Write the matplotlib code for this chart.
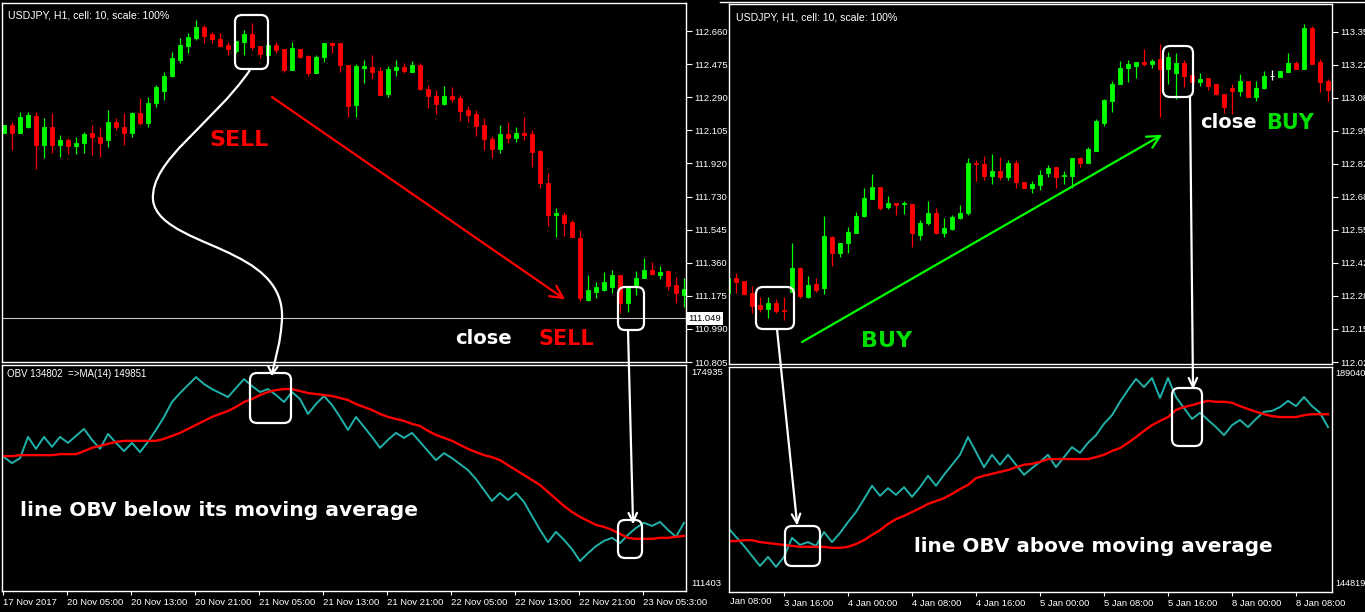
import numpy as np
import matplotlib
matplotlib.use("Agg")
import matplotlib.pyplot as plt
from matplotlib.patches import FancyBboxPatch, PathPatch
from matplotlib.path import Path
from matplotlib.transforms import blended_transform_factory as blend

# ---------------- data: left chart (USDJPY H1, 17-23 Nov 2017) ----------------
left_open = [112.088, 112.133, 112.088, 112.122, 112.184, 112.021, 112.122, 112.021, 112.049, 112.016,
             112.032, 112.088, 112.066, 112.049, 112.150, 112.122, 112.088, 112.201, 112.144, 112.257,
             112.324, 112.408, 112.498, 112.576, 112.621, 112.683, 112.643, 112.615, 112.582, 112.548,
             112.599, 112.643, 112.576, 112.526, 112.582, 112.559, 112.442, 112.559, 112.520, 112.425,
             112.514, 112.593, 112.593, 112.470, 112.245, 112.453, 112.458, 112.436, 112.307, 112.442,
             112.458, 112.430, 112.470, 112.335, 112.296, 112.251, 112.296, 112.285, 112.217, 112.195,
             112.133, 112.055, 111.999, 112.083, 112.060, 112.088, 112.083, 111.987, 111.808, 111.629,
             111.629, 111.589, 111.500, 111.152, 111.197, 111.208, 111.225, 111.292, 111.135, 111.225,
             111.276, 111.320, 111.292, 111.315, 111.236, 111.180]
left_high = [112.133, 112.150, 112.206, 112.206, 112.206, 112.172, 112.201, 112.077, 112.060, 112.066,
             112.094, 112.133, 112.122, 112.217, 112.172, 112.201, 112.206, 112.285, 112.290, 112.357,
             112.430, 112.542, 112.621, 112.649, 112.722, 112.694, 112.655, 112.649, 112.599, 112.604,
             112.666, 112.705, 112.576, 112.593, 112.599, 112.559, 112.599, 112.559, 112.526, 112.526,
             112.593, 112.599, 112.593, 112.470, 112.475, 112.498, 112.526, 112.458, 112.464, 112.498,
             112.481, 112.492, 112.481, 112.357, 112.329, 112.352, 112.346, 112.301, 112.240, 112.217,
             112.172, 112.072, 112.133, 112.150, 112.122, 112.178, 112.105, 111.993, 111.864, 111.668,
             111.646, 111.601, 111.545, 111.292, 111.253, 111.309, 111.320, 111.292, 111.219, 111.315,
             111.388, 111.365, 111.343, 111.315, 111.281, 111.276]
left_low = [112.088, 111.993, 112.088, 112.116, 111.887, 111.948, 111.976, 111.954, 111.971, 111.971,
            111.976, 111.965, 111.954, 112.010, 112.105, 112.021, 112.066, 112.133, 112.122, 112.234,
            112.273, 112.402, 112.481, 112.537, 112.610, 112.593, 112.593, 112.571, 112.526, 112.537,
            112.526, 112.554, 112.509, 112.520, 112.537, 112.430, 112.442, 112.509, 112.408, 112.425,
            112.486, 112.537, 112.430, 112.178, 112.178, 112.369, 112.391, 112.301, 112.290, 112.408,
            112.425, 112.430, 112.329, 112.229, 112.195, 112.245, 112.262, 112.156, 112.150, 112.072,
            111.993, 111.948, 111.976, 112.032, 112.038, 112.049, 111.898, 111.780, 111.567, 111.505,
            111.511, 111.505, 111.147, 111.147, 111.163, 111.203, 111.191, 111.079, 111.085, 111.180,
            111.276, 111.292, 111.270, 111.208, 111.135, 111.113]
left_close = [112.133, 112.088, 112.178, 112.189, 112.021, 112.122, 112.021, 112.049, 112.016, 112.032,
              112.083, 112.066, 112.032, 112.150, 112.122, 112.088, 112.201, 112.144, 112.257, 112.346,
              112.408, 112.509, 112.582, 112.627, 112.683, 112.632, 112.615, 112.576, 112.559, 112.604,
              112.643, 112.571, 112.531, 112.582, 112.554, 112.442, 112.565, 112.514, 112.425, 112.514,
              112.593, 112.582, 112.470, 112.240, 112.464, 112.464, 112.430, 112.301, 112.447, 112.458,
              112.436, 112.470, 112.335, 112.296, 112.251, 112.296, 112.279, 112.212, 112.189, 112.128,
              112.055, 111.999, 112.083, 112.060, 112.088, 112.077, 111.982, 111.808, 111.629, 111.640,
              111.584, 111.505, 111.163, 111.208, 111.225, 111.253, 111.292, 111.135, 111.219, 111.276,
              111.320, 111.298, 111.309, 111.231, 111.191, 111.214]
left_obv = [149600, 147800, 149300, 155700, 152100, 155700, 152700, 155700, 153900, 156000,
            158100, 154800, 152100, 156600, 153900, 151400, 153900, 151100, 154200, 157800,
            161700, 166200, 168900, 171300, 173700, 171600, 170100, 168900, 167700, 170400,
            173100, 171000, 169200, 170100, 168300, 166200, 169200, 167100, 162600, 165600,
            168000, 165300, 161700, 157800, 161700, 158700, 155700, 152400, 154800, 156900,
            155400, 156900, 154200, 151400, 148700, 150800, 149300, 147500, 145700, 143000,
            139700, 136400, 138800, 136700, 138800, 136100, 131900, 127700, 124000, 127100,
            124700, 121900, 118300, 120700, 122800, 124400, 125300, 123700, 126200, 128300,
            129800, 128900, 130100, 127700, 125600, 129800]
left_ma = [149900, 149900, 150200, 150200, 150200, 150200, 150200, 150500, 150500, 150500,
           151400, 152400, 153000, 153600, 154200, 154500, 154500, 154500, 154500, 154500,
           155100, 156000, 156900, 158100, 159300, 160500, 161700, 162600, 163500, 164700,
           166200, 167100, 168300, 169200, 169800, 170100, 170100, 169500, 168900, 168600,
           168300, 168000, 167400, 166800, 165600, 164700, 163800, 162600, 161700, 161100,
           160500, 159600, 159000, 157500, 156300, 155400, 154500, 153300, 152100, 151100,
           150200, 149600, 148700, 147200, 145700, 144200, 142700, 141200, 139100, 137000,
           134900, 133100, 131600, 130400, 129200, 128600, 127700, 126500, 125300, 125000,
           125000, 125000, 125300, 125300, 125600, 125900]
left_bid = 111.049
left_price_ticks = ["112.660", "112.475", "112.290", "112.105", "111.920", "111.730",
                    "111.545", "111.360", "111.175", "110.990", "110.805"]
left_obv_scale = ["174935", "111403"]
left_time_labels = ["17 Nov 2017", "20 Nov 05:00", "20 Nov 13:00", "20 Nov 21:00", "21 Nov 05:00",
                    "21 Nov 13:00", "21 Nov 21:00", "22 Nov 05:00", "22 Nov 13:00", "22 Nov 21:00",
                    "23 Nov 05:3:00"]
left_obv_header = "OBV 134802  =>MA(14) 149851"

# ---------------- data: right chart (USDJPY H1, 3-8 Jan) ----------------
right_open = [112.300, 112.360, 112.348, 112.300, 112.252, 112.236, 112.260, 112.232, 112.304, 112.400,
              112.284, 112.336, 112.320, 112.525, 112.461, 112.501, 112.541, 112.609, 112.681, 112.729,
              112.645, 112.665, 112.657, 112.661, 112.533, 112.581, 112.621, 112.541, 112.557, 112.601,
              112.621, 112.826, 112.822, 112.770, 112.790, 112.766, 112.826, 112.746, 112.725, 112.737,
              112.782, 112.806, 112.770, 112.770, 112.846, 112.826, 112.874, 112.986, 113.075, 113.143,
              113.207, 113.215, 113.231, 113.223, 113.243, 113.203, 113.187, 113.227, 113.179, 113.151,
              113.167, 113.143, 113.103, 113.127, 113.115, 113.155, 113.091, 113.127, 113.175, 113.171,
              113.191, 113.227, 113.203, 113.368, 113.231, 113.155]
right_high = [112.360, 112.380, 112.348, 112.328, 112.284, 112.284, 112.276, 112.284, 112.501, 112.404,
              112.368, 112.360, 112.609, 112.529, 112.501, 112.565, 112.625, 112.725, 112.778, 112.729,
              112.693, 112.665, 112.673, 112.661, 112.593, 112.673, 112.641, 112.601, 112.613, 112.653,
              112.846, 112.838, 112.854, 112.862, 112.850, 112.838, 112.838, 112.746, 112.750, 112.794,
              112.814, 112.806, 112.790, 112.846, 112.850, 112.890, 113.002, 113.083, 113.155, 113.235,
              113.239, 113.231, 113.283, 113.243, 113.303, 113.271, 113.267, 113.239, 113.179, 113.187,
              113.167, 113.143, 113.103, 113.143, 113.183, 113.155, 113.155, 113.195, 113.199, 113.195,
              113.267, 113.235, 113.384, 113.376, 113.243, 113.163]
right_low = [112.300, 112.300, 112.292, 112.220, 112.224, 112.200, 112.220, 112.192, 112.304, 112.280,
             112.280, 112.304, 112.296, 112.408, 112.444, 112.461, 112.541, 112.605, 112.681, 112.633,
             112.637, 112.613, 112.617, 112.485, 112.513, 112.573, 112.537, 112.525, 112.553, 112.597,
             112.613, 112.750, 112.754, 112.741, 112.754, 112.754, 112.725, 112.725, 112.705, 112.717,
             112.766, 112.725, 112.741, 112.725, 112.806, 112.826, 112.874, 112.974, 113.030, 113.143,
             113.151, 113.167, 113.215, 113.207, 113.010, 113.143, 113.083, 113.131, 113.151, 113.135,
             113.119, 113.099, 113.026, 113.022, 113.095, 113.091, 113.075, 113.123, 113.159, 113.171,
             113.191, 113.203, 113.203, 113.223, 113.111, 113.075]
right_close = [112.360, 112.344, 112.296, 112.248, 112.236, 112.260, 112.228, 112.228, 112.400, 112.288,
               112.332, 112.312, 112.529, 112.461, 112.501, 112.545, 112.609, 112.685, 112.729, 112.641,
               112.665, 112.653, 112.665, 112.541, 112.581, 112.621, 112.541, 112.561, 112.605, 112.621,
               112.826, 112.822, 112.770, 112.790, 112.766, 112.826, 112.746, 112.725, 112.741, 112.774,
               112.802, 112.766, 112.774, 112.846, 112.826, 112.882, 112.994, 113.079, 113.143, 113.207,
               113.223, 113.231, 113.223, 113.235, 113.203, 113.251, 113.227, 113.175, 113.151, 113.163,
               113.135, 113.103, 113.051, 113.115, 113.155, 113.091, 113.127, 113.175, 113.175, 113.195,
               113.227, 113.203, 113.368, 113.223, 113.151, 113.119]
right_obv = [156600, 154700, 152800, 150700, 148600, 150500, 148400, 150500, 154500, 153000,
             153600, 152800, 155700, 153600, 155500, 157800, 159900, 162600, 165400, 163300,
             164900, 163500, 165100, 163100, 165100, 167500, 165400, 167700, 169800, 171900,
             175600, 172500, 169300, 171900, 169800, 171900, 169800, 167700, 169100, 170400,
             171900, 169300, 171400, 173500, 172300, 174400, 176000, 178400, 180200, 183000,
             185500, 187800, 186100, 188000, 183800, 188000, 184000, 181700, 179400, 180700,
             179200, 177700, 176000, 178100, 179200, 177700, 179400, 180900, 181100, 181900,
             183200, 182100, 184000, 182100, 180700, 177700]
right_ma = [153800, 153800, 154000, 154000, 153600, 153400, 153200, 153000, 152800, 152600,
            152600, 152600, 152600, 152400, 152400, 152600, 153200, 154000, 155100, 156100,
            157400, 158400, 159100, 159900, 160700, 161600, 162200, 162800, 163700, 164700,
            165600, 167000, 167500, 167900, 168300, 168700, 169300, 169800, 170000, 170400,
            171000, 171000, 171000, 171000, 171000, 171000, 171400, 171900, 172700, 173300,
            174400, 175600, 176900, 178100, 179000, 179800, 181300, 181900, 182300, 182800,
            183200, 183000, 183000, 182800, 182100, 181500, 180900, 180400, 180000, 179800,
            179800, 179800, 180200, 180400, 180400, 180400]
right_price_ticks = ["113.353", "113.220", "113.087", "112.954", "112.821", "112.688",
                     "112.555", "112.422", "112.289", "112.156", "112.023"]
right_obv_scale = ["189040", "144819"]
right_time_labels = ["3 Jan 16:00", "4 Jan 00:00", "4 Jan 08:00", "4 Jan 16:00", "5 Jan 00:00",
                     "5 Jan 08:00", "5 Jan 16:00", "8 Jan 00:00", "8 Jan 08:00"]
right_first_label = "Jan 08:00"
chart_header = "USDJPY, H1, cell: 10, scale: 100%"

# ---------------- style ----------------
BULL, BEAR, DOJI = "#00FF00", "#FF0000", "#FFFFFF"
OBV_COL, MA_COL = "#20B2AA", "#FF0000"
ANN = ["DejaVu Sans"]
plt.rcParams["font.family"] = ["Liberation Sans", "DejaVu Sans"]

W, H = 1365, 612
fig = plt.figure(figsize=(W / 100, H / 100), dpi=100, facecolor="black")


def px_axes(x0, y0, x1, y1):
    return fig.add_axes([x0 / W, 1 - y1 / H, (x1 - x0) / W, (y1 - y0) / H])


def style(ax):
    ax.set_facecolor("black")
    for s in ax.spines.values():
        s.set_color("white")
        s.set_linewidth(1.0)
    ax.tick_params(colors="white", labelcolor="white", labelsize=6.8, width=0.8)


def draw_candles(ax, o, h, l, c):
    o, h, l, c = map(np.asarray, (o, h, l, c))
    x = np.arange(len(o))
    cols = np.where(c > o, BULL, np.where(c < o, BEAR, DOJI))
    ax.vlines(x, l, h, colors=cols, linewidth=0.9)
    ax.bar(x, c - o, bottom=o, width=0.58, color=cols, edgecolor=cols, linewidth=0.6)


def price_axis(ax, ticks):
    ax.set_xticks([])
    ax.yaxis.tick_right()
    ax.set_yticks([float(t) for t in ticks])
    ax.set_yticklabels(ticks)
    ax.tick_params(axis="y", length=4, pad=2)


# ---------------- left chart ----------------
nL = len(left_open)
axLP = px_axes(2, 3, 686, 362)
style(axLP)
draw_candles(axLP, left_open, left_high, left_low, left_close)
axLP.set_xlim(-0.25, nL - 0.75)
axLP.set_ylim(110.805, 112.817)
price_axis(axLP, left_price_ticks)
axLP.axhline(left_bid, color="#C8C8C8", lw=0.8)
axLP.text(1.003, left_bid, f"{left_bid:.3f}", transform=blend(axLP.transAxes, axLP.transData),
          color="black", fontsize=6.8, va="center", ha="left",
          bbox=dict(fc="white", ec="none", pad=1.2))
axLP.text(0.009, 0.966, chart_header, transform=axLP.transAxes, color="white", fontsize=7.6, va="center")

axLO = px_axes(2, 365, 686, 591)
style(axLO)
xL = np.arange(nL)
axLO.plot(xL, left_obv, color=OBV_COL, lw=1.4)
axLO.plot(xL, left_ma, color=MA_COL, lw=1.7)
axLO.set_xlim(-0.25, nL - 0.75)
axLO.set_ylim(109295, 177343)
axLO.set_yticks([])
axLO.set_xticks(np.arange(len(left_time_labels)) * 8 - 0.125)
axLO.set_xticklabels(left_time_labels, ha="left")
axLO.tick_params(axis="x", length=3, pad=2)
for v in left_obv_scale:
    axLO.text(1.008, float(v), v, transform=blend(axLO.transAxes, axLO.transData),
              color="white", fontsize=6.8, va="center", ha="left")
axLO.text(0.007, 0.958, left_obv_header, transform=axLO.transAxes, color="white", fontsize=7.0, va="center")

# ---------------- right chart ----------------
nR = len(right_open)
axRP = px_axes(729, 4, 1332, 364)
style(axRP)
draw_candles(axRP, right_open, right_high, right_low, right_close)
axRP.set_xlim(0.125, nR - 0.5)
axRP.set_ylim(112.015, 113.464)
price_axis(axRP, right_price_ticks)
axRP.text(0.011, 0.962, chart_header, transform=axRP.transAxes, color="white", fontsize=7.6, va="center")

axRO = px_axes(729, 367, 1332, 592)
style(axRO)
xR = np.arange(nR)
axRO.plot(xR, right_obv, color=OBV_COL, lw=1.4)
axRO.plot(xR, right_ma, color=MA_COL, lw=1.7)
axRO.set_xlim(0.125, nR - 0.5)
axRO.set_ylim(143138, 190298)
axRO.set_yticks([])
axRO.set_xticks(np.arange(len(right_time_labels)) * 8 + 7)
axRO.set_xticklabels(right_time_labels, ha="left")
axRO.tick_params(axis="x", length=3, pad=2)
axRO.text(0.002, -0.04, right_first_label, transform=axRO.transAxes, color="white",
          fontsize=6.8, va="center", ha="left")
for v in right_obv_scale:
    axRO.text(1.005, float(v), v, transform=blend(axRO.transAxes, axRO.transData),
              color="white", fontsize=6.6, va="center", ha="left")

# ---------------- overlay annotations (pixel space) ----------------
ov = fig.add_axes([0, 0, 1, 1], zorder=10)
ov.set_xlim(0, W)
ov.set_ylim(H, 0)
ov.axis("off")
ov.patch.set_alpha(0)

ov.plot([720, W], [1.5, 1.5], color="white", lw=1.0)


def rbox(x0, y0, x1, y1):
    ov.add_patch(FancyBboxPatch((x0, y0), x1 - x0, y1 - y0,
                                boxstyle="round,pad=0,rounding_size=7",
                                ec="white", fc="none", lw=1.6))


def head_only(p0, p1, color, lw=1.6, head=11, ang=28):
    d = np.arctan2(p0[1] - p1[1], p0[0] - p1[0])
    for s in (-1, 1):
        a = d + s * np.radians(ang)
        ov.plot([p1[0], p1[0] + head * np.cos(a)], [p1[1], p1[1] + head * np.sin(a)],
                color=color, lw=lw, solid_capstyle="round")


def arrow(p0, p1, color, lw=1.6, head=11, ang=28):
    ov.plot([p0[0], p1[0]], [p0[1], p1[1]], color=color, lw=lw, solid_capstyle="round")
    head_only(p0, p1, color, lw, head, ang)


for b in [(235, 15, 268, 69), (250, 373, 291, 423), (618, 287, 644, 330), (618, 520, 642, 558),
          (756, 287, 794, 329), (785, 526, 820, 566), (1163, 46, 1193, 97), (1172, 388, 1202, 446)]:
    rbox(*b)

# curved white arrow (left)
verts = [(250, 70), (212, 125), (150, 160), (153, 200),
         (156, 228), (205, 240), (235, 256),
         (268, 272), (283, 292), (282, 318),
         (281, 342), (275, 360), (272, 373)]
codes = [Path.MOVETO] + [Path.CURVE4] * 12
ov.add_patch(PathPatch(Path(verts, codes), fc="none", ec="white", lw=1.6))
head_only((274, 355), (272, 374), "white", head=9, ang=32)

arrow((628, 330), (633, 522), "white", head=10, ang=25)
arrow((777, 329), (797, 523), "white", head=10, ang=25)
arrow((1190, 97), (1193, 387), "white", head=10, ang=25)
arrow((272, 97), (563, 298), "#FF0000", head=14, ang=27)
arrow((802, 342), (1160, 136), "#00FF00", head=14, ang=27)

ov.text(239, 140, "SELL", color="#FF0000", fontsize=16, fontweight="bold", family=ANN,
        ha="center", va="center")
ov.text(483, 339, "close", color="white", fontsize=14, fontweight="bold", family=ANN,
        ha="center", va="center")
ov.text(566, 339, "SELL", color="#FF0000", fontsize=15, fontweight="bold", family=ANN,
        ha="center", va="center")
ov.text(219, 511, "line OBV below its moving average", color="white", fontsize=14.6,
        fontweight="bold", family=ANN, ha="center", va="center")
ov.text(887, 341, "BUY", color="#00E000", fontsize=16, fontweight="bold", family=ANN,
        ha="center", va="center")
ov.text(1228, 123, "close", color="white", fontsize=14, fontweight="bold", family=ANN,
        ha="center", va="center")
ov.text(1290, 123, "BUY", color="#00E000", fontsize=15, fontweight="bold", family=ANN,
        ha="center", va="center")
ov.text(1093, 547, "line OBV above moving average", color="white", fontsize=14.4,
        fontweight="bold", family=ANN, ha="center", va="center")

fig.savefig("out.png", dpi=100, facecolor="black")
